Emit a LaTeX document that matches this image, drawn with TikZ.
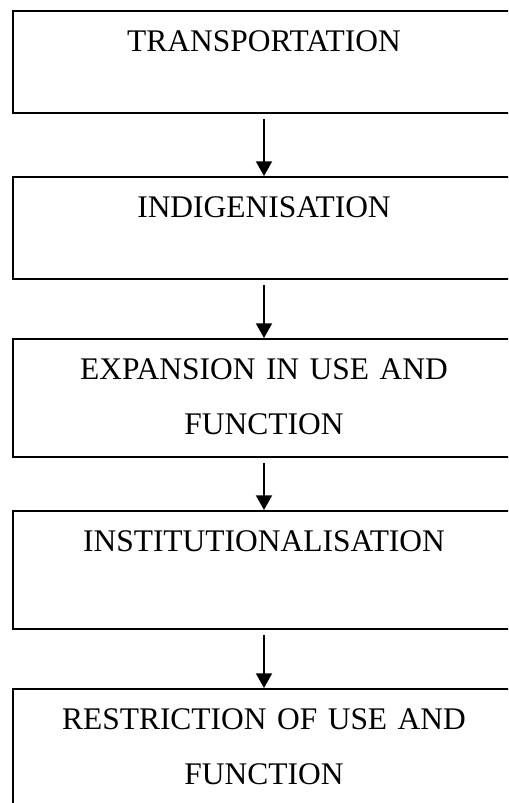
\documentclass[tikz,border=0pt]{standalone}
\usepackage{fontspec}
\setmainfont{Liberation Serif}
\usetikzlibrary{arrows.meta}

\begin{document}
\begin{tikzpicture}[x=0.75pt, y=-0.75pt, line width=1.4pt, >={Triangle[width=12pt, length=11pt]},
    stage/.style={draw, anchor=north, minimum width=377pt, text width=370pt, align=center, inner sep=0pt,
        text height=30.5pt, text depth=#1, font=\fontsize{23.6pt}{41.25pt}\selectfont}]
    \clip (0,0) rectangle (508,803);
    \node[stage=46pt] (transport) at (264,10) {TRANSPORTATION};
    \node[stage=46pt] (indigen) at (264,176) {INDIGENISATION};
    \node[stage=58pt] (expand) at (264,338) {EXPANSION IN USE AND\\FUNCTION};
    \node[stage=58pt] (institution) at (264,510) {INSTITUTIONALISATION};
    \node[stage=70pt] (restrict) at (264,688) {RESTRICTION OF USE AND\\FUNCTION};

    \draw[->, shorten <=4pt] (transport) -- (indigen);
    \draw[->, shorten <=4pt] (indigen) -- (expand);
    \draw[->, shorten <=4pt] (expand) -- (institution);
    \draw[->, shorten <=4pt] (institution) -- (restrict);
\end{tikzpicture}
\end{document}
